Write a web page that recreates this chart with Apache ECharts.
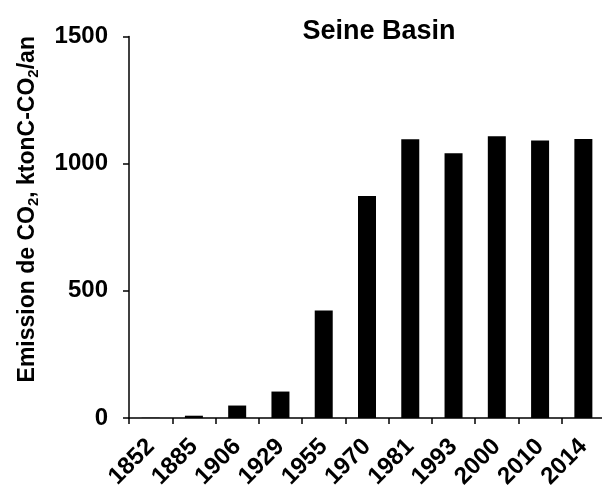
<!DOCTYPE html>
<html>
<head>
<meta charset="utf-8">
<script src="https://cdn.jsdelivr.net/npm/echarts@6/dist/echarts.min.js"></script>
<style>html,body{margin:0;padding:0;background:#fff}#c{width:602px;height:486px}</style>
</head>
<body>
<div id="c"></div>
<script>
var categories = ['1852','1885','1906','1929','1955','1970','1981','1993','2000','2010','2014'];
var emissions = [1, 9, 49, 104, 423, 873, 1096, 1041, 1108, 1091, 1097];
var yTicks = [0, 500, 1000, 1500];

var font = 'Arial, "Liberation Sans", sans-serif';
var chart = echarts.init(document.getElementById('c'), null, {renderer: 'canvas'});
chart.setOption({
  animation: false,
  backgroundColor: '#fff',
  title: {
    text: 'Seine Basin',
    left: 374, top: 13, textAlign: 'center',
    textStyle: {fontFamily: font, fontWeight: 'bold', fontSize: 27, color: '#000'}
  },
  grid: {left: 129, top: 36.5, width: 476, height: 381.5, containLabel: false, outerBoundsMode: 'none'},
  xAxis: {
    type: 'category',
    data: categories,
    axisLine: {lineStyle: {color: '#000', width: 1.5}},
    axisTick: {show: true, length: 6, alignWithLabel: false, lineStyle: {color: '#000', width: 1.5}},
    axisLabel: {rotate: 45, interval: 0, margin: 25, color: '#000', fontFamily: font, fontWeight: 'bold', fontSize: 24}
  },
  yAxis: {
    type: 'value',
    min: yTicks[0], max: yTicks[yTicks.length - 1], interval: 500,
    splitLine: {show: false},
    axisLine: {show: true, lineStyle: {color: '#000', width: 1.5}},
    axisTick: {show: true, length: 6, lineStyle: {color: '#000', width: 1.5}},
    axisLabel: {margin: 21, color: '#000', fontFamily: font, fontWeight: 'bold', fontSize: 24, formatter: function (v) { return String(v); }},
    name: '{n|Emission de CO}{s|2}{n|, ktonC-CO}{s|2}{n|/an}',
    nameLocation: 'middle',
    nameGap: 88,
    nameRotate: 90,
    nameTextStyle: {
      padding: [0, 0, 0, 36],
      rich: {
        n: {fontFamily: font, fontWeight: 'bold', fontSize: 23, color: '#000'},
        s: {fontFamily: font, fontWeight: 'bold', fontSize: 15, color: '#000', verticalAlign: 'bottom', padding: [11, 0, 0, 0]}
      }
    }
  },
  series: [{
    type: 'bar',
    data: emissions,
    barWidth: 18,
    itemStyle: {color: '#000'}
  }]
});
</script>
</body>
</html>
